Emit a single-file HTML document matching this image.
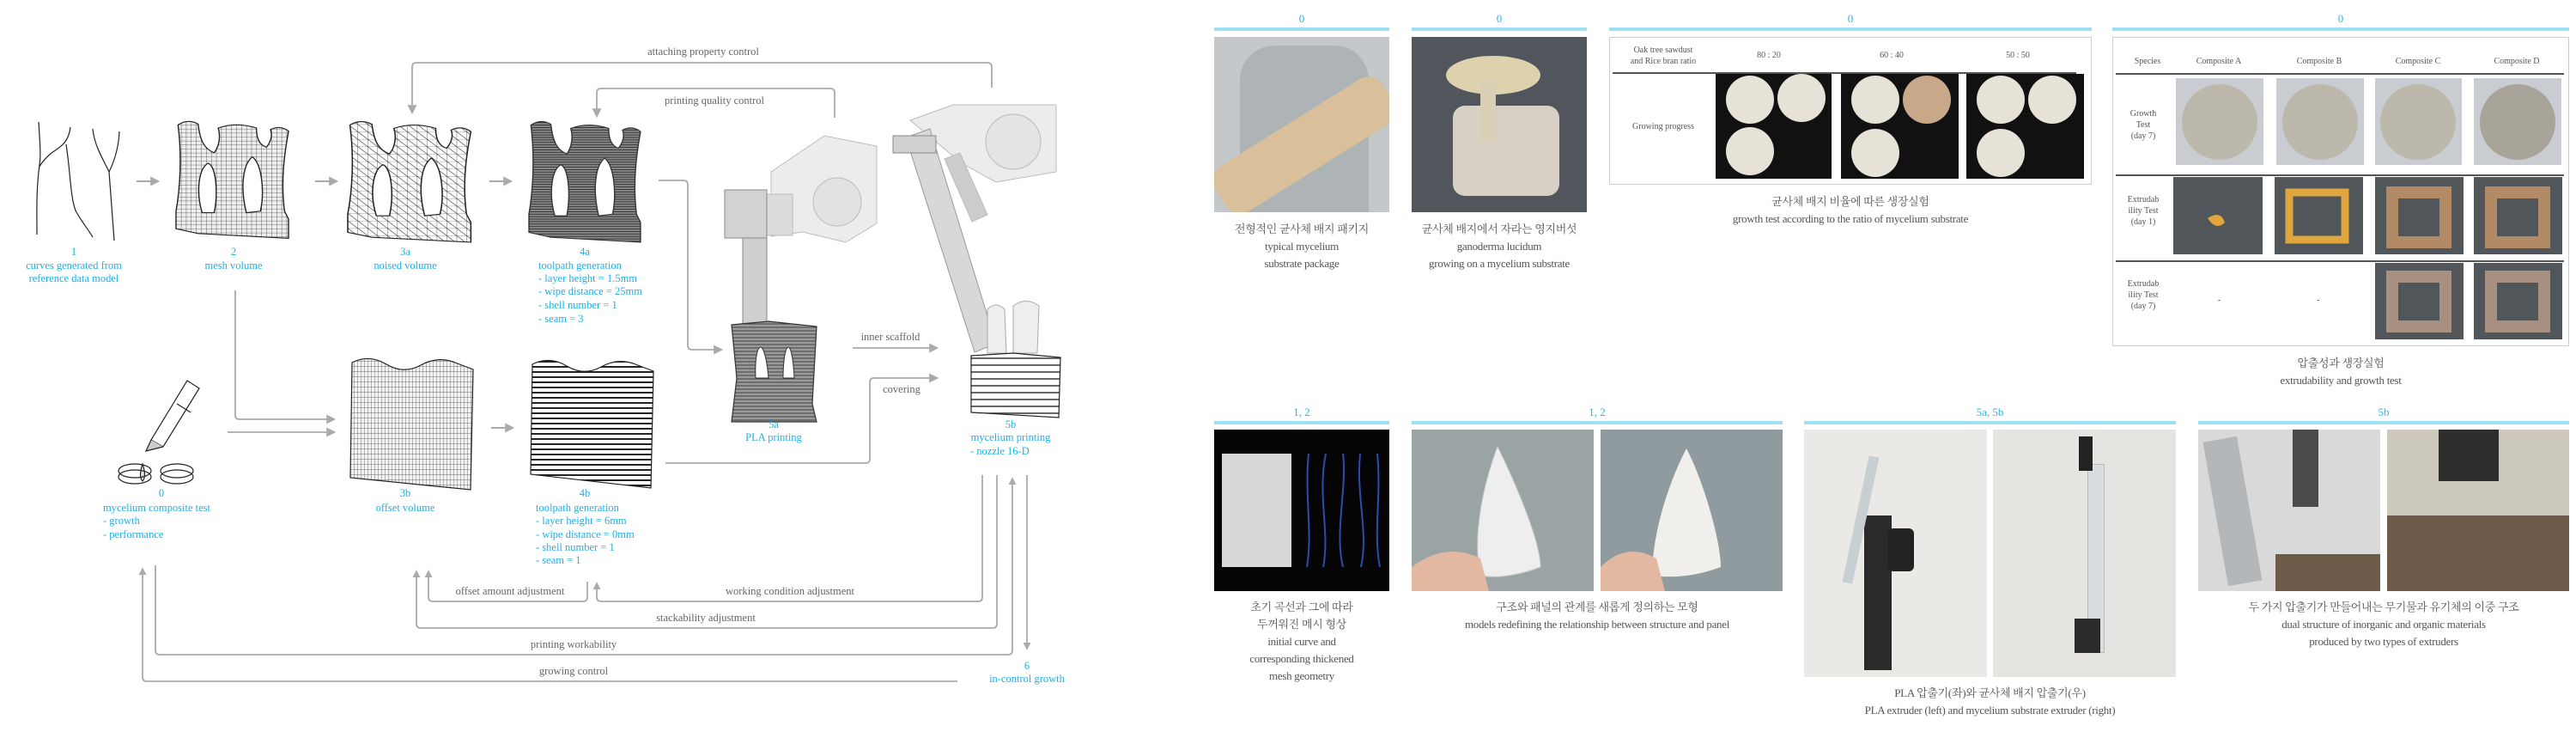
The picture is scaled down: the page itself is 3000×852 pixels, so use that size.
<!DOCTYPE html>
<html><head><meta charset="utf-8">
<style>
*{margin:0;padding:0;box-sizing:border-box}
body{width:3000px;height:852px;background:#fff;position:relative;overflow:hidden;font-family:"Liberation Serif","Noto Serif CJK SC","Noto Sans CJK KR",serif;color:#555}
.a{position:absolute}
.t{position:absolute;text-align:center;font-size:13px;line-height:20px;color:#555;white-space:nowrap;letter-spacing:-0.3px}
.hd{position:absolute;text-align:center;color:#29b6ea;font-size:13px}
.hl{position:absolute;height:4px;background:#9fdff4}
svg text{font-family:"Liberation Serif",serif}
</style></head><body>

<svg class="a" style="left:0;top:0" width="1400" height="852" viewBox="0 0 1400 852">
<defs>
<pattern id="grid" width="5" height="5" patternUnits="userSpaceOnUse"><rect width="5" height="5" fill="#eee"/><path d="M0 0H5M0 0V5" stroke="#444" stroke-width="0.7"/></pattern>
<pattern id="grid2" width="9" height="9" patternUnits="userSpaceOnUse"><rect width="9" height="9" fill="#fff"/><path d="M0 0H9M0 0V9M0 0L9 9" stroke="#333" stroke-width="0.6"/></pattern>
<pattern id="dense" width="4" height="3" patternUnits="userSpaceOnUse"><rect width="4" height="3" fill="#888"/><path d="M0 1H4" stroke="#333" stroke-width="1"/></pattern>
<pattern id="sheet" width="4" height="6" patternUnits="userSpaceOnUse"><rect width="4" height="6" fill="#f3f3f3"/><path d="M0 0H4M0 0V6" stroke="#444" stroke-width="0.7"/></pattern>
<pattern id="stripe" width="6" height="6" patternUnits="userSpaceOnUse"><rect width="6" height="6" fill="#fff"/><path d="M0 1H6" stroke="#222" stroke-width="2"/></pattern>
<pattern id="stripe2" width="6" height="8" patternUnits="userSpaceOnUse"><rect width="6" height="8" fill="#fff"/><path d="M0 1H6" stroke="#333" stroke-width="1.5"/></pattern>
<pattern id="hatch" width="5" height="4" patternUnits="userSpaceOnUse"><rect width="5" height="4" fill="#999"/><path d="M0 1H5" stroke="#444" stroke-width="1"/></pattern>
<marker id="ah" viewBox="0 0 10 10" refX="8" refY="5" markerWidth="9" markerHeight="9" markerUnits="userSpaceOnUse" orient="auto"><path d="M0 0L10 5L0 10Z" fill="#aaa"/></marker>
<marker id="ahb" viewBox="0 0 10 10" refX="8" refY="5" markerWidth="11" markerHeight="11" markerUnits="userSpaceOnUse" orient="auto"><path d="M0 0L10 5L0 10Z" fill="#aaa"/></marker>
<path id="tree" d="M0,140 L0,118 C4,90 6,50 2,10 Q12,2 22,9 C24,30 28,40 38,45 C44,35 44,22 42,14 Q60,6 80,14 C80,25 82,35 90,38 C95,30 96,22 94,16 Q104,10 112,18 C108,45 104,80 108,118 L112,128 L112,152 L22,146 Z M26,120 C20,95 22,65 32,58 C40,62 42,95 38,120 Z M70,120 C64,90 66,60 76,50 C86,60 88,95 84,118 Z"/>
</defs>

<!-- curves 1 -->
<g fill="none" stroke="#222" stroke-width="1.2">
<path d="M45,142 C46,160 48,180 46,192 C42,220 43,250 43,273"/>
<path d="M82,148 C80,165 72,170 60,178 C52,185 48,190 46,194"/>
<path d="M77,168 C82,200 82,230 88,245 C95,258 102,266 108,276"/>
<path d="M108,150 C110,170 120,185 127,200 C129,230 131,255 133,280"/>
<path d="M139,153 C138,175 132,190 127,200"/>
</g>

<!-- arrows top row -->
<g stroke="#aaa" stroke-width="2" fill="none">
<line x1="159" y1="211" x2="184" y2="211" marker-end="url(#ahb)"/>
<line x1="367" y1="211" x2="392" y2="211" marker-end="url(#ahb)"/>
<line x1="570" y1="211" x2="595" y2="211" marker-end="url(#ahb)"/>
<line x1="572" y1="498" x2="597" y2="498" marker-end="url(#ahb)"/>
</g>

<!-- meshes -->
<g transform="translate(205,136) scale(1.17,0.93)"><use href="#tree" fill="url(#grid)" fill-rule="evenodd" stroke="#222" stroke-width="1.2"/></g>
<g transform="translate(405,136) scale(1.28,0.96)"><use href="#tree" fill="url(#grid2)" fill-rule="evenodd" stroke="#222" stroke-width="1.2"/></g>
<g transform="translate(616,136) scale(1.16,0.96)"><use href="#tree" fill="url(#dense)" fill-rule="evenodd" stroke="#333" stroke-width="1.2"/></g>

<!-- 3b / 4b sheets -->
<path d="M410,422 Q430,412 450,424 T490,425 T530,422 L551,430 L548,570 L408,556 Z" fill="url(#sheet)" stroke="#222" stroke-width="1.2"/>
<path d="M620,424 Q640,414 660,426 T700,427 T740,424 L761,432 L758,568 L618,552 Z" fill="url(#stripe)" stroke="#222" stroke-width="1.2"/>

<!-- dropper -->
<g fill="none" stroke="#222" stroke-width="1.2">
<path d="M218,443 L232,452 L190,520 L176,512 Z" fill="#fff"/>
<path d="M206,470 L222,480"/>
<path d="M176,512 L170,525 L182,522 L190,520" fill="#ccc"/>
<path d="M166,540 Q161,555 166,560 Q171,555 166,540 Z" fill="#ddd"/>
<ellipse cx="157" cy="548" rx="19" ry="8"/><ellipse cx="157" cy="555" rx="19" ry="8"/>
<ellipse cx="206" cy="548" rx="19" ry="8"/><ellipse cx="206" cy="555" rx="19" ry="8"/>
</g>

<!-- robot 5a -->
<g stroke="#bbb" stroke-width="1">
<path d="M898,200 L960,158 L1021,170 L1021,260 L985,282 L935,270 L898,275 Z" fill="#ececec"/>
<circle cx="975" cy="235" r="28" fill="#e2e2e2"/>
<rect x="893" y="226" width="30" height="48" fill="#dcdcdc"/>
<rect x="844" y="221" width="49" height="56" fill="#d2d2d2" stroke="#888"/>
<rect x="865" y="277" width="28" height="100" fill="#cfcfcf" stroke="#888"/>
</g>
<path d="M852,378 L895,374 L951,380 L946,470 L951,491 L852,491 L858,440 Z" fill="url(#hatch)" stroke="#333" stroke-width="1.2"/>
<path d="M880,440 C878,400 890,385 895,440 Z M912,440 C912,400 922,385 925,440 Z" fill="#fff" stroke="#333"/>

<!-- robot 5b -->
<g stroke="#bbb" stroke-width="1">
<path d="M1060,140 L1110,122 L1230,122 L1230,200 L1160,212 L1120,190 Z" fill="#ececec"/>
<circle cx="1180" cy="165" r="32" fill="#e4e4e4"/>
<path d="M1055,160 L1083,150 L1160,400 L1135,410 Z" fill="#d8d8d8" stroke="#999"/>
<rect x="1040" y="158" width="50" height="20" fill="#d0d0d0" stroke="#888"/>
<path d="M1100,185 L1118,178 L1150,250 L1132,258 Z" fill="#ccc"/>
</g>
<path d="M1150,411 L1150,360 Q1160,350 1170,360 L1172,411 Z M1180,411 L1180,356 Q1195,345 1210,356 L1208,411 Z" fill="#eee" stroke="#aaa"/>
<path d="M1131,414 L1180,411 L1235,416 L1233,486 L1131,480 Z" fill="url(#stripe2)" stroke="#222" stroke-width="1.2"/>

<!-- feedback connectors -->
<g stroke="#aaa" stroke-width="1.8" fill="none">
<path d="M1155,102 L1155,78 Q1155,73 1150,73 L485,73 Q480,73 480,78 L480,131" marker-end="url(#ahb)"/>
<path d="M972,137 L972,108 Q972,103 967,103 L700,103 Q695,103 695,108 L695,135" marker-end="url(#ahb)"/>
<path d="M767,210 L796,210 Q801,210 801,215 L801,402 Q801,407 806,407 L840,407" marker-end="url(#ahb)"/>
<path d="M274,338 L274,483 Q274,488 279,488 L389,488" marker-end="url(#ahb)"/>
<path d="M265,503 L389,503" marker-end="url(#ahb)"/>
<path d="M993,405 L1091,405" marker-end="url(#ahb)"/>
<path d="M775,539 L1008,539 Q1013,539 1013,534 L1013,445 Q1013,440 1018,440 L1091,440" marker-end="url(#ahb)"/>
<path d="M1144,553 L1144,695 Q1144,700 1139,700 L700,700 Q695,700 695,695 L695,679" marker-end="url(#ah)"/>
<path d="M684,677 L684,695 Q684,700 679,700 L504,700 Q499,700 499,695 L499,665" marker-end="url(#ah)"/>
<path d="M1161,553 L1161,726 Q1161,731 1156,731 L490,731 Q485,731 485,726 L485,665" marker-end="url(#ah)"/>
<path d="M181,658 L181,757 Q181,762 186,762 L1174,762 Q1179,762 1179,757 L1179,557" marker-end="url(#ah)"/>
<path d="M1115,793 L171,793 Q166,793 166,788 L166,662" marker-end="url(#ah)"/>
<path d="M1196,553 L1196,755" marker-end="url(#ah)"/>
</g>

<g font-size="12.5" fill="#666" text-anchor="middle">
<text x="819" y="64">attaching property control</text>
<text x="832" y="121">printing quality control</text>
<text x="1037" y="396">inner scaffold</text>
<text x="1050" y="457">covering</text>
<text x="594" y="692">offset amount adjustment</text>
<text x="920" y="692">working condition adjustment</text>
<text x="822" y="723">stackability adjustment</text>
<text x="668" y="754">printing workability</text>
<text x="668" y="785">growing control</text>
</g>

<g font-size="12.5" fill="#1fb0e6" text-anchor="middle">
<text x="86" y="297">1</text><text x="86" y="313">curves generated from</text><text x="86" y="328">reference data model</text>
<text x="272" y="297">2</text><text x="272" y="313">mesh volume</text>
<text x="472" y="297">3a</text><text x="472" y="313">noised volume</text>
<text x="681" y="297">4a</text>
<text x="901" y="498">5a</text><text x="901" y="513">PLA printing</text>
<text x="1177" y="498">5b</text><text x="1177" y="513">mycelium printing</text>
<text x="188" y="578">0</text>
<text x="472" y="578">3b</text><text x="472" y="595">offset volume</text>
<text x="681" y="578">4b</text>
<text x="1196" y="779">6</text><text x="1196" y="794">in-control growth</text>
</g>
<g font-size="12.5" fill="#1fb0e6">
<text x="627" y="313">toolpath generation</text>
<text x="627" y="328">- layer height = 1.5mm</text>
<text x="627" y="343">- wipe distance = 25mm</text>
<text x="627" y="359">- shell number = 1</text>
<text x="627" y="375">- seam = 3</text>
<text x="624" y="595">toolpath generation</text>
<text x="624" y="610">- layer height = 6mm</text>
<text x="624" y="626">- wipe distance = 0mm</text>
<text x="624" y="641">- shell number = 1</text>
<text x="624" y="656">- seam = 1</text>
<text x="120" y="595">mycelium composite test</text>
<text x="120" y="610">- growth</text>
<text x="120" y="626">- performance</text>
<text x="1130" y="529">- nozzle 16-D</text>
</g>
</svg>

<!-- RIGHT SIDE top headers -->
<div class="hd" style="left:1414px;top:14px;width:204px">0</div><div class="hl" style="left:1414px;top:32px;width:204px"></div>
<div class="hd" style="left:1644px;top:14px;width:204px">0</div><div class="hl" style="left:1644px;top:32px;width:204px"></div>
<div class="hd" style="left:1874px;top:14px;width:562px">0</div><div class="hl" style="left:1874px;top:32px;width:562px"></div>
<div class="hd" style="left:2460px;top:14px;width:532px">0</div><div class="hl" style="left:2460px;top:32px;width:532px"></div>

<!-- photo 1 -->
<div class="a" style="left:1414px;top:43px;width:204px;height:204px;background:#c4c8ca;overflow:hidden">
 <div class="a" style="left:30px;top:10px;width:150px;height:194px;background:#aeb3b6;border-radius:40px 40px 0 0"></div>
 <div class="a" style="left:-10px;top:95px;width:230px;height:62px;background:#d9bf9a;transform:rotate(-32deg);border-radius:20px"></div>
</div>
<!-- photo 2 -->
<div class="a" style="left:1644px;top:43px;width:204px;height:204px;background:#50565b;overflow:hidden">
 <div class="a" style="left:48px;top:80px;width:124px;height:105px;background:#d8d0c4;border-radius:14px"></div>
 <div class="a" style="left:40px;top:22px;width:110px;height:45px;background:#ddd1ae;border-radius:50%"></div>
 <div class="a" style="left:80px;top:50px;width:18px;height:70px;background:#d9cfb4"></div>
</div>
<div class="t" style="left:1394px;top:257px;width:244px">전형적인 균사체 배지 패키지<br>typical mycelium<br>substrate package</div>
<div class="t" style="left:1624px;top:257px;width:244px">균사체 배지에서 자라는 영지버섯<br>ganoderma lucidum<br>growing on a mycelium substrate</div>

<!-- table col3 -->
<div class="a" style="left:1874px;top:43px;width:562px;height:172px;border:1px solid #ccc;background:#fff">
 <div class="a" style="left:3px;top:40px;width:540px;height:2px;background:#555"></div>
 <div class="a" style="left:0;top:8px;width:124px;font-size:10px;line-height:13px;text-align:center">Oak tree sawdust<br>and Rice bran ratio</div>
 <div class="a" style="left:150px;top:15px;width:70px;font-size:10px;text-align:center">80 : 20</div>
 <div class="a" style="left:293px;top:15px;width:70px;font-size:10px;text-align:center">60 : 40</div>
 <div class="a" style="left:440px;top:15px;width:70px;font-size:10px;text-align:center">50 : 50</div>
 <div class="a" style="left:0;top:98px;width:124px;font-size:10px;text-align:center">Growing progress</div>
 <svg class="a" style="left:123px;top:42px" width="430" height="124">
  <rect x="0" y="0" width="135" height="122" fill="#111"/><rect x="146" y="0" width="137" height="122" fill="#111"/><rect x="292" y="0" width="137" height="122" fill="#111"/>
  <g fill="#e6e2d8"><ellipse cx="40" cy="30" rx="28" ry="28"/><ellipse cx="100" cy="28" rx="28" ry="28"/><ellipse cx="40" cy="90" rx="28" ry="28"/>
  <ellipse cx="186" cy="30" rx="28" ry="28"/><ellipse cx="246" cy="30" rx="28" ry="28" fill="#c9a789"/><ellipse cx="186" cy="92" rx="28" ry="28"/>
  <ellipse cx="332" cy="30" rx="28" ry="28"/><ellipse cx="392" cy="30" rx="28" ry="28"/><ellipse cx="332" cy="92" rx="28" ry="28"/></g>
 </svg>
</div>
<div class="t" style="left:1874px;top:225px;width:562px">균사체 배지 비율에 따른 생장실험<br>growth test according to the ratio of mycelium substrate</div>

<!-- table col4 -->
<div class="a" style="left:2460px;top:43px;width:532px;height:360px;border:1px solid #ccc;background:#fff">
 <div class="a" style="left:5px;top:22px;width:70px;font-size:10px;text-align:center">Species</div>
 <div class="a" style="left:73px;top:22px;width:100px;font-size:10px;text-align:center">Composite A</div>
 <div class="a" style="left:190px;top:22px;width:100px;font-size:10px;text-align:center">Composite B</div>
 <div class="a" style="left:305px;top:22px;width:100px;font-size:10px;text-align:center">Composite C</div>
 <div class="a" style="left:420px;top:22px;width:100px;font-size:10px;text-align:center">Composite D</div>
 <div class="a" style="left:3px;top:41px;width:522px;height:2px;background:#555"></div>
 <div class="a" style="left:3px;top:159px;width:522px;height:2px;background:#555"></div>
 <div class="a" style="left:3px;top:259px;width:522px;height:2px;background:#555"></div>
 <div class="a" style="left:5px;top:82px;width:60px;font-size:10px;line-height:13px;text-align:center">Growth<br>Test<br>(day 7)</div>
 <div class="a" style="left:5px;top:182px;width:60px;font-size:10px;line-height:13px;text-align:center">Extrudab<br>ility Test<br>(day 1)</div>
 <div class="a" style="left:5px;top:280px;width:60px;font-size:10px;line-height:13px;text-align:center">Extrudab<br>ility Test<br>(day 7)</div>
 <div class="a" style="left:122px;top:300px;font-size:10px">-</div><div class="a" style="left:237px;top:300px;font-size:10px">-</div>
 <svg class="a" style="left:0;top:0" width="532" height="360">
  <g fill="#c9ccd0"><rect x="73" y="47" width="102" height="101"/><rect x="190" y="47" width="102" height="101"/><rect x="305" y="47" width="101" height="101"/><rect x="420" y="47" width="102" height="101"/></g>
  <g fill="#bdb8ac"><circle cx="124" cy="98" r="44"/><circle cx="241" cy="98" r="44"/><circle cx="355" cy="98" r="44"/><circle cx="471" cy="98" r="44" fill="#a8a49a"/></g>
  <g fill="#50565a"><rect x="70" y="162" width="104" height="90"/><rect x="188" y="162" width="103" height="90"/><rect x="305" y="162" width="103" height="90"/><rect x="420" y="162" width="103" height="90"/>
  <rect x="305" y="262" width="103" height="89"/><rect x="420" y="262" width="103" height="89"/></g>
  <path d="M110,210 Q125,200 130,215 Q120,225 110,210Z" fill="#e2a43c"/>
  <rect x="205" y="180" width="65" height="55" fill="none" stroke="#e0a73e" stroke-width="9"/>
  <g fill="none" stroke="#b38a66" stroke-width="14"><rect x="325" y="180" width="62" height="58"/><rect x="440" y="180" width="62" height="58"/><rect x="325" y="278" width="62" height="58" stroke="#a89080"/><rect x="440" y="278" width="62" height="58" stroke="#a89080"/></g>
 </svg>
</div>
<div class="t" style="left:2460px;top:413px;width:532px">압출성과 생장실험<br>extrudability and growth test</div>

<!-- bottom headers -->
<div class="hd" style="left:1414px;top:472px;width:204px">1, 2</div><div class="hl" style="left:1414px;top:490px;width:204px"></div>
<div class="hd" style="left:1644px;top:472px;width:432px">1, 2</div><div class="hl" style="left:1644px;top:490px;width:432px"></div>
<div class="hd" style="left:2101px;top:472px;width:433px">5a, 5b</div><div class="hl" style="left:2101px;top:490px;width:433px"></div>
<div class="hd" style="left:2560px;top:472px;width:432px">5b</div><div class="hl" style="left:2560px;top:490px;width:432px"></div>

<!-- bottom photos -->
<div class="a" style="left:1414px;top:500px;width:204px;height:188px;background:#050505;overflow:hidden">
 <div class="a" style="left:9px;top:28px;width:81px;height:132px;background:#d8d8d8"></div>
 <svg class="a" style="left:105px;top:28px" width="95" height="132"><g stroke="#2c4bb0" stroke-width="2" fill="none"><path d="M5,0 C0,50 10,90 3,132 M25,0 C15,50 30,90 22,132 M45,0 C50,40 35,90 45,132 M65,0 C60,50 75,90 66,132 M85,0 C90,50 80,90 88,132"/></g></svg>
</div>
<div class="a" style="left:1644px;top:500px;width:212px;height:188px;background:#9aa4a4;overflow:hidden">
 <svg class="a" style="left:0;top:0" width="212" height="188"><path d="M100,20 C120,60 150,130 150,160 Q110,175 80,170 C70,120 85,60 100,20Z" fill="#eee" stroke="#ccc"/><path d="M0,160 Q40,130 80,150 L90,188 L0,188Z" fill="#e2b8a0"/></svg>
</div>
<div class="a" style="left:1864px;top:500px;width:212px;height:188px;background:#8f9b9e;overflow:hidden">
 <svg class="a" style="left:0;top:0" width="212" height="188"><path d="M100,22 C120,60 140,130 140,160 Q100,175 60,170 C60,120 80,60 100,22Z" fill="#f0efec"/><path d="M0,160 Q30,130 65,150 L75,188 L0,188Z" fill="#e2b8a0"/></svg>
</div>
<div class="a" style="left:2101px;top:500px;width:213px;height:288px;background:#ebe9e6;overflow:hidden">
 <div class="a" style="left:70px;top:100px;width:32px;height:180px;background:#2a2a2a"></div>
 <div class="a" style="left:98px;top:115px;width:30px;height:50px;background:#222;border-radius:6px"></div>
 <div class="a" style="left:60px;top:30px;width:12px;height:150px;background:#c8cfd2;transform:rotate(12deg)"></div>
</div>
<div class="a" style="left:2321px;top:500px;width:213px;height:288px;background:#e6e4e0;overflow:hidden">
 <div class="a" style="left:110px;top:40px;width:20px;height:220px;background:#d8dde0;border:1px solid #bbb"></div>
 <div class="a" style="left:100px;top:8px;width:16px;height:40px;background:#222"></div>
 <div class="a" style="left:95px;top:220px;width:30px;height:40px;background:#2a2a2a"></div>
</div>
<div class="a" style="left:2560px;top:500px;width:212px;height:188px;background:#d8d9d8;overflow:hidden">
 <div class="a" style="left:90px;top:145px;width:122px;height:43px;background:#6e5a48"></div>
 <div class="a" style="left:20px;top:10px;width:40px;height:170px;background:#b3b7ba;transform:rotate(-10deg)"></div>
 <div class="a" style="left:110px;top:0;width:30px;height:90px;background:#4a4a4a"></div>
</div>
<div class="a" style="left:2780px;top:500px;width:212px;height:188px;background:#cdc9bd;overflow:hidden">
 <div class="a" style="left:0;top:100px;width:212px;height:88px;background:#6f5b49"></div>
 <div class="a" style="left:60px;top:0;width:70px;height:60px;background:#2e2e2e"></div>
</div>

<div class="t" style="left:1394px;top:697px;width:244px">초기 곡선과 그에 따라<br>두꺼워진 메시 형상<br>initial curve and<br>corresponding thickened<br>mesh geometry</div>
<div class="t" style="left:1644px;top:697px;width:432px">구조와 패널의 관계를 새롭게 정의하는 모형<br>models redefining the relationship between structure and panel</div>
<div class="t" style="left:2101px;top:797px;width:433px">PLA 압출기(좌)와 균사체 배지 압출기(우)<br>PLA extruder (left) and mycelium substrate extruder (right)</div>
<div class="t" style="left:2560px;top:697px;width:432px">두 가지 압출기가 만들어내는 무기물과 유기체의 이중 구조<br>dual structure of inorganic and organic materials<br>produced by two types of extruders</div>

</body></html>
